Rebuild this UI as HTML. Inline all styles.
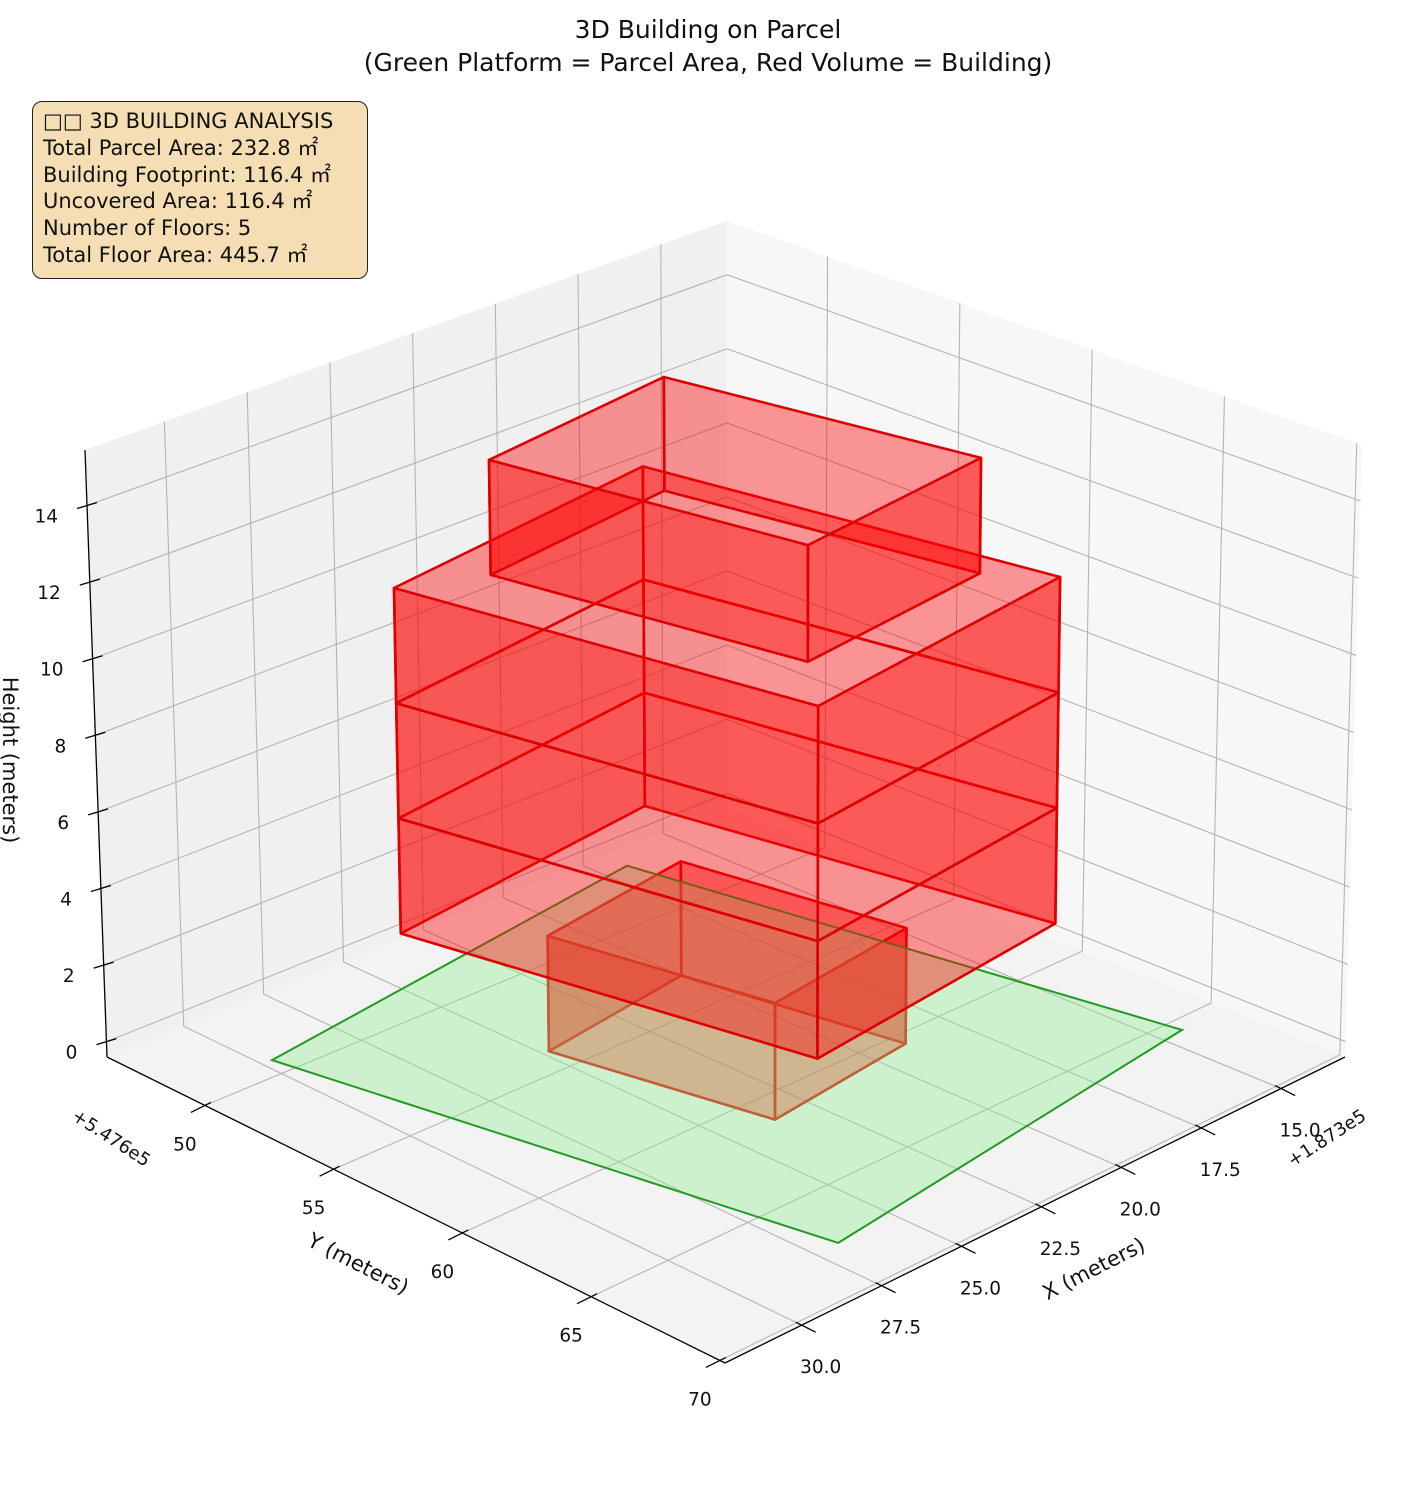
<!DOCTYPE html>
<html><head><meta charset="utf-8">
<style>
html,body{margin:0;padding:0;background:#fff;}
#wrap{position:relative;width:1416px;height:1486px;overflow:hidden;font-family:"DejaVu Sans","Liberation Sans",sans-serif;}
svg text{font-family:"DejaVu Sans","Liberation Sans","Noto Sans CJK SC",sans-serif;fill:#111;}
#info{position:absolute;left:32px;top:101px;width:324px;height:170px;padding:6px 0 0 10px;background:#f5deb3;border:1.6px solid #222;border-radius:10px;font-size:21px;line-height:26.8px;color:#111;font-family:"DejaVu Sans","Noto Sans CJK SC",sans-serif;white-space:nowrap;}
</style></head>
<body>
<div id="wrap">
<svg id="chart" width="1416" height="1486">
  <text x="708" y="38" text-anchor="middle" font-size="25">3D Building on Parcel</text>
  <text x="708" y="71" text-anchor="middle" font-size="25">(Green Platform = Parcel Area, Red Volume = Building)</text>
  <g id="panes"></g>
  <g id="grid"></g>
  <g id="axes"></g>
  <g id="marks"></g>
  <text x="0" y="0" font-size="21" transform="translate(355,1270) rotate(27)" text-anchor="middle">Y (meters)</text>
  <text x="0" y="0" font-size="21" transform="translate(1097,1275) rotate(-27)" text-anchor="middle">X (meters)</text>
  <text x="0" y="0" font-size="21" transform="translate(3,760) rotate(90)" text-anchor="middle">Height (meters)</text>
  <text x="0" y="0" font-size="18" transform="translate(108,1143) rotate(33)" text-anchor="middle">+5.476e5</text>
  <text x="0" y="0" font-size="18" transform="translate(1330,1143) rotate(-33)" text-anchor="middle">+1.873e5</text>
</svg>
<div id="info">□□ 3D BUILDING ANALYSIS<br>Total Parcel Area: 232.8 ㎡<br>Building Footprint: 116.4 ㎡<br>Uncovered Area: 116.4 ㎡<br>Number of Floors: 5<br>Total Floor Area: 445.7 ㎡</div>
</div>
<script>
// ---- data ----
const xTicks = [15.0, 17.5, 20.0, 22.5, 25.0, 27.5, 30.0];
const xTickLabels = ["15.0","17.5","20.0","22.5","25.0","27.5","30.0"];
const yTicks = [50, 55, 60, 65, 70];
const yTickLabels = ["50","55","60","65","70"];
const zTicks = [0, 2, 4, 6, 8, 10, 12, 14];
const zTickLabels = ["0","2","4","6","8","10","12","14"];
const xLim = [13.0, 32.4];
const yLim = [46.2, 70.2];
const zLim = [-0.4, 15.45];
const parcelX = [30.22, 17.36, 14.92, 27.29];
const parcelY = [49.92, 47.73, 66.24, 68.25];
const floorBase = [0, 3, 6, 9, 12];
const floorTop = [3, 6, 9, 12, 15];
const floorFootX = [
  [25.35, 20.55, 19.5, 24.14],
  [27.64, 19.06, 17.12, 25.4],
  [27.64, 19.06, 17.12, 25.4],
  [27.64, 19.06, 17.12, 25.4],
  [25.61, 19.68, 18.14, 23.96]
];
const floorFootY = [
  [54.62, 53.8, 61.2, 61.89],
  [51.8, 50.56, 63.99, 65.09],
  [51.8, 50.56, 63.99, 65.09],
  [51.8, 50.56, 63.99, 65.09],
  [52.94, 52.15, 62.21, 62.91]
];

// ---- projection (screen corners of axes box) ----
const CB = {L:[107,1057],F:[725,1363],R:[1345,1057],B:[727,808]};
const CT = {L:[85,450],F:[724,728],R:[1362,445],B:[727,221]};
function lerp(a,b,t){return [a[0]+(b[0]-a[0])*t,a[1]+(b[1]-a[1])*t];}
function plane(C,u,v){const a=lerp(C.L,C.F,v),b=lerp(C.B,C.R,v);return lerp(a,b,u);}
function P(x,y,z){
  const u=(xLim[1]-x)/(xLim[1]-xLim[0]);
  const v=(y-yLim[0])/(yLim[1]-yLim[0]);
  const w=(z-zLim[0])/(zLim[1]-zLim[0]);
  return lerp(plane(CB,u,v),plane(CT,u,v),w);
}
const NS='http://www.w3.org/2000/svg';
function mk(tag,parent,attrs){const e=document.createElementNS(NS,tag);for(const k in attrs)e.setAttribute(k,attrs[k]);parent.appendChild(e);return e;}
function pts(arr){return arr.map(p=>p[0].toFixed(1)+','+p[1].toFixed(1)).join(' ');}

const gP=document.getElementById('panes'),gG=document.getElementById('grid'),gA=document.getElementById('axes'),gM=document.getElementById('marks');
const [x0,x1]=xLim,[y0,y1]=yLim,[z0,z1]=zLim;
let e;
e=mk('polygon',gP,{points:pts([P(x1,y0,z0),P(x0,y0,z0),P(x0,y0,z1),P(x1,y0,z1)]),fill:'#f0f0f0'});


e=mk('polygon',gP,{points:pts([P(x0,y0,z0),P(x0,y1,z0),P(x0,y1,z1),P(x0,y0,z1)]),fill:'#f7f7f7'});


e=mk('polygon',gP,{points:pts([P(x1,y0,z0),P(x1,y1,z0),P(x0,y1,z0),P(x0,y0,z0)]),fill:'#f3f3f3'});


function gl(a,b,name){const l=mk('line',gG,{x1:a[0],y1:a[1],x2:b[0],y2:b[1],stroke:'#b4b4b4','stroke-width':1.1});

}
xTicks.forEach(x=>{gl(P(x,y0,z0),P(x,y1,z0),'x-grid-floor');gl(P(x,y0,z0),P(x,y0,z1),'x-grid-wall');});
yTicks.forEach(y=>{gl(P(x1,y,z0),P(x0,y,z0),'y-grid-floor');gl(P(x0,y,z0),P(x0,y,z1),'y-grid-wall');});
zTicks.forEach(z=>{gl(P(x1,y0,z),P(x0,y0,z),'z-grid-left');gl(P(x0,y0,z),P(x0,y1,z),'z-grid-right');});
function al(a,b,name){const l=mk('line',gA,{x1:a[0],y1:a[1],x2:b[0],y2:b[1],stroke:'#000','stroke-width':1.3});

}
al(P(x1,y0,z0),P(x1,y1,z0),'y-axis-line');
al(P(x1,y1,z0),P(x0,y1,z0),'x-axis-line');
al(P(x1,y0,z0),P(x1,y0,z1),'z-axis-line');
function tx(x,y,s,anchor,name){const t=mk('text',gA,{x:x,y:y,'font-size':18.5,'text-anchor':anchor});t.textContent=s;

}
yTicks.forEach((y,i)=>{const p=P(x1,y,z0);al([p[0]-14,p[1]+7],[p[0]+6,p[1]-3],'y-tick');tx(p[0]-20,p[1]+45,yTickLabels[i],'middle','y-tick-label');});
xTicks.forEach((x,i)=>{const p=P(x,y1,z0);al([p[0]+14,p[1]+7],[p[0]-6,p[1]-3],'x-tick');tx(p[0]+19,p[1]+48,xTickLabels[i],'middle','x-tick-label');});
zTicks.forEach((z,i)=>{const p=P(x1,y0,z);al([p[0]-10,p[1]+3],[p[0]+10,p[1]-3],'z-tick');tx(p[0]-29,p[1]+17,zTickLabels[i],'end','z-tick-label');});

// ---- marks: each floor drawn as 4 translucent side walls ----
function drawBox(i){
  const fx=floorFootX[i],fy=floorFootY[i],zb=floorBase[i],zt=floorTop[i];
  const bot=fx.map((x,k)=>P(x,fy[k],zb)),top=fx.map((x,k)=>P(x,fy[k],zt));
  const g=mk('g',gM,{});
  
  
  for(let k=0;k<4;k++){const n=(k+1)%4;
    const p=mk('polygon',g,{points:pts([bot[k],bot[n],top[n],top[k]]),fill:'rgba(255,0,0,0.4)',stroke:'#dd0000','stroke-width':2.6,'stroke-linejoin':'round'});
    
    }
}
drawBox(0);
e=mk('polygon',gM,{points:pts(parcelX.map((x,k)=>P(x,parcelY[k],0))),fill:'rgba(144,238,144,0.4)',stroke:'#229a22','stroke-width':2});


for(let i=1;i<floorBase.length;i++)drawBox(i);
</script>
</body></html>
